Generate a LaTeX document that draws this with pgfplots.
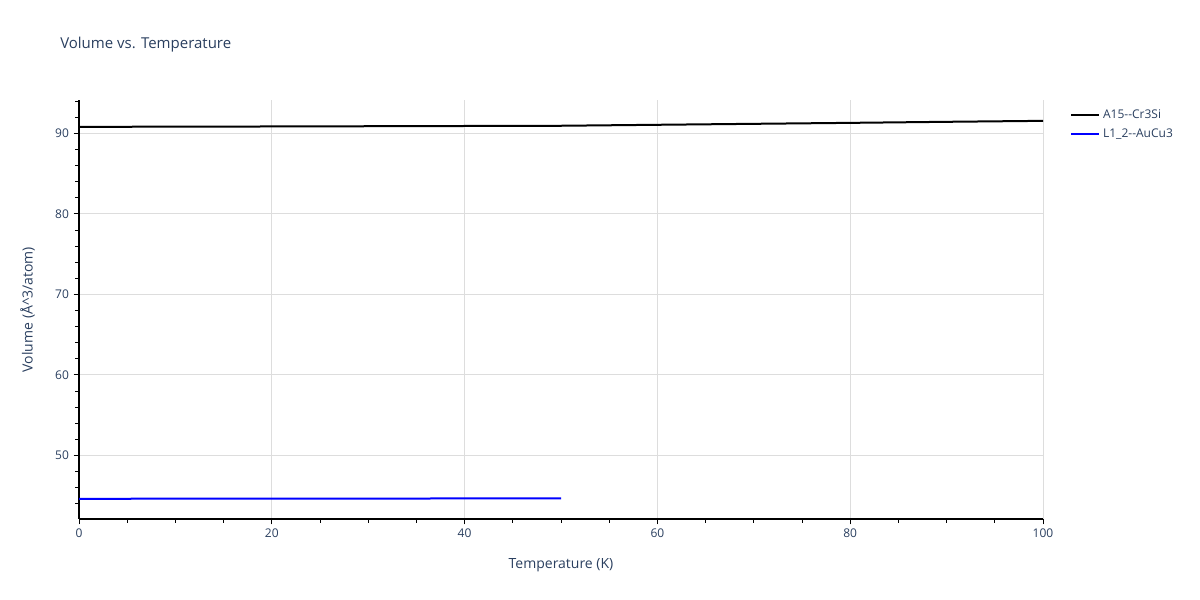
\documentclass[border=0pt]{standalone}
\usepackage{pgfplots}
\pgfplotsset{compat=1.18}
\usepackage{fontspec}
\setmainfont{Open Sans}
\definecolor{ptxt}{HTML}{2A3F5F}
\definecolor{pgrid}{HTML}{DDDDDD}
\begin{document}
\begin{tikzpicture}[x=0.75pt,y=0.75pt]
\path[use as bounding box] (0,0) rectangle (1200,600);
\node[anchor=west,inner sep=0pt,text=ptxt,font=\fontsize{11.25pt}{13pt}\selectfont] at (60,555) {Volume vs. Temperature};
\begin{axis}[
  at={(59.25pt,60.75pt)}, anchor=origin,
  scale only axis, width=723pt, height=314.25pt,
  xmin=0, xmax=100, ymin=42.11, ymax=94.16,
  axis x line*=bottom, axis y line*=left,
  axis line style={black, line width=0.8pt},
  xtick={0,20,40,60,80,100}, ytick={50,60,70,80,90},
  minor xtick={5,10,15,25,30,35,45,50,55,65,70,75,85,90,95},
  minor ytick={44,46,48,52,54,56,58,62,64,66,68,72,74,76,78,82,84,86,88,92,94},
  tick align=outside, major tick length=4pt, minor tick length=3pt,
  tick style={black, line width=0.75pt},
  grid=major, major grid style={pgrid, line width=0.75pt},
  ticklabel style={text=ptxt, font=\fontsize{9pt}{11pt}\selectfont},
  /pgf/number format/assume math mode=true,
  xlabel={Temperature (K)}, ylabel={Volume (Å\textasciicircum 3/atom)},
  label style={text=ptxt, font=\fontsize{10.5pt}{12pt}\selectfont},
  xlabel style={yshift=-8.25pt},
  ylabel style={yshift=8.5pt},
  legend style={at={(1.024,0.99)}, anchor=north west, draw=none, fill=none,
    font=\fontsize{9pt}{11pt}\selectfont, text=ptxt, row sep=2pt},
  legend cell align=left,
  legend image code/.code={\draw[#1] (0pt,0pt) -- (21pt,0pt);},
]
\addplot[black, line width=1.5pt] coordinates {(0,90.82) (10,90.85) (20,90.87) (30,90.9) (40,90.93) (50,90.96) (60,91.08) (70,91.2) (80,91.32) (90,91.45) (100,91.57)};
\addlegendentry{A15{-}{-}Cr3Si}
\addplot[blue, line width=1.5pt] coordinates {(0,44.62) (10,44.63) (20,44.64) (30,44.65) (40,44.66) (50,44.67)};
\addlegendentry{L1\_2{-}{-}AuCu3}
\end{axis}
\end{tikzpicture}
\end{document}
